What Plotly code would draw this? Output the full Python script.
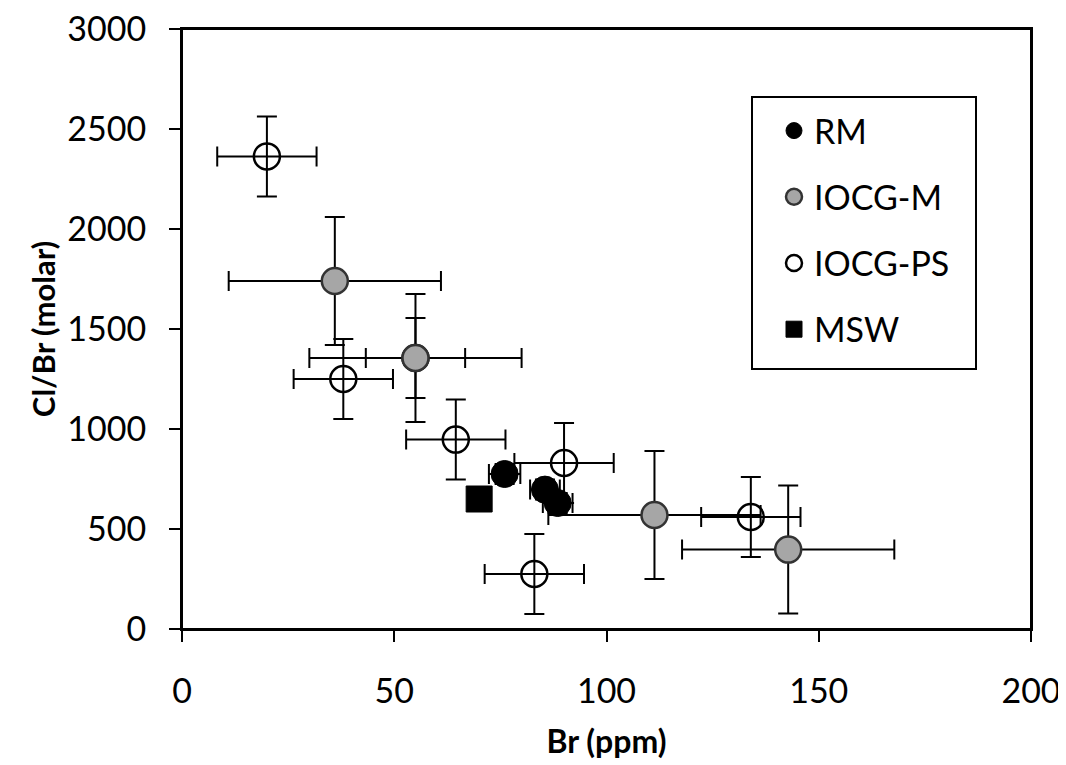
import plotly.graph_objects as go

# ---- data ----
rm_x = [76, 85.5, 88.5]
rm_y = [775, 697, 630]
rm_xerr = [3.7, 3.5, 3.5]
rm_yerr = [50, 50, 50]

iocgm_x = [36, 55, 111.3, 142.8]
iocgm_y = [1740, 1355, 570, 397]
iocgm_xerr = [25, 25, 25, 25]
iocgm_yerr = [320, 320, 320, 320]

iocgps_x = [20, 38, 55, 64.5, 90, 83, 134]
iocgps_y = [2363, 1250, 1355, 947, 830, 275, 560]
iocgps_xerr = [11.7] * 7
iocgps_yerr = [200] * 7

msw_x = [70]
msw_y = [650]

x_ticks = [0, 50, 100, 150, 200]
y_ticks = [0, 500, 1000, 1500, 2000, 2500, 3000]

FONT = "Lato"
W, H = 1058, 757
L, R, T, B = 174, 35, 21, 136
PW, PH = W - L - R, H - T - B


def err(vals):
    return dict(type="data", array=vals, visible=True, color="black",
                thickness=2, width=10)


fig = go.Figure()

fig.add_trace(go.Scatter(
    x=iocgps_x, y=iocgps_y, mode="markers", name="IOCG-PS",
    legendrank=3, legendgroup="c",
    marker=dict(symbol="circle-open", size=26, color="black",
                line=dict(width=2.5, color="black")),
    error_x=err(iocgps_xerr), error_y=err(iocgps_yerr)))

fig.add_trace(go.Scatter(
    x=iocgm_x, y=iocgm_y, mode="markers", name="IOCG-M",
    legendrank=2, legendgroup="b",
    marker=dict(symbol="circle", size=26, color="#A6A6A6",
                line=dict(width=2.5, color="#333333")),
    error_x=err(iocgm_xerr), error_y=err(iocgm_yerr)))

fig.add_trace(go.Scatter(
    x=rm_x, y=rm_y, mode="markers", name="RM",
    legendrank=1, legendgroup="a",
    marker=dict(symbol="circle", size=27, color="black",
                line=dict(width=1, color="black")),
    error_x=err(rm_xerr), error_y=err(rm_yerr)))

fig.add_trace(go.Scatter(
    x=msw_x, y=msw_y, mode="markers", name="MSW",
    legendrank=4, legendgroup="d",
    marker=dict(symbol="square", size=26, color="black",
                line=dict(width=1, color="black"))))

axis_common = dict(
    showline=True, linecolor="black", linewidth=2, mirror=True,
    ticks="outside", ticklen=11, tickwidth=2, tickcolor="black",
    showgrid=False, zeroline=False, ticklabeloverflow="allow",
    tickfont=dict(family=FONT, size=34, color="black"),
)

fig.update_xaxes(range=[0, 200], tickvals=x_ticks, ticklabelstandoff=20,
                 title=dict(text="<b>Br (ppm)</b>", standoff=22,
                            font=dict(family=FONT, size=32, color="black")),
                 **axis_common)
fig.update_yaxes(range=[0, 3000], tickvals=y_ticks, ticklabelstandoff=16,
                 title=dict(text="<b>Cl/Br (molar)</b>", standoff=2,
                            font=dict(family=FONT, size=31, color="black")),
                 **axis_common)

# plot frame (guarantees the top edge is drawn)
fig.add_shape(type="rect", xref="paper", yref="paper", x0=0, x1=1, y0=0, y1=1,
              line=dict(color="black", width=2), layer="above")

# legend frame (pixel box of the reference legend)
bx0, bx1, by0, by1 = 752 - 8, 976 - 8, 97 - 8, 369 - 8
fig.add_shape(type="rect", xref="paper", yref="paper",
              x0=(bx0 - L) / PW, x1=(bx1 - L) / PW,
              y0=1 - (by1 - T) / PH, y1=1 - (by0 - T) / PH,
              line=dict(color="black", width=2), fillcolor="white",
              layer="below")

fig.update_layout(
    width=W, height=H,
    margin=dict(l=L, r=R, t=T, b=B, autoexpand=False),
    paper_bgcolor="white", plot_bgcolor="white",
    showlegend=True,
    legend=dict(x=(bx0 + 22 - L) / PW, y=1 - (by0 + 5 - T) / PH,
                xanchor="left", yanchor="top",
                borderwidth=0, bgcolor="rgba(0,0,0,0)",
                font=dict(family=FONT, size=34, color="black"),
                tracegroupgap=19, itemsizing="trace"),
)

fig.write_html("out.html")
